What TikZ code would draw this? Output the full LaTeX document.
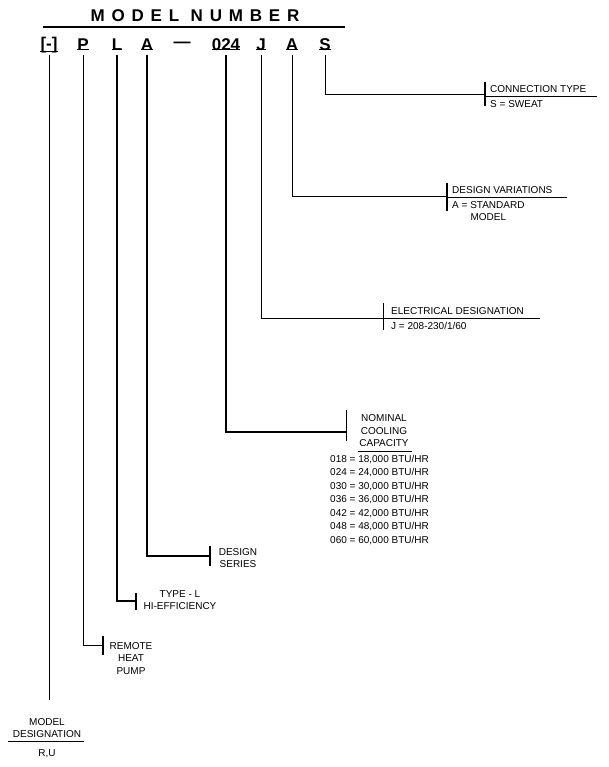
\documentclass[tikz,border=0pt]{standalone}
\usepackage{fontspec}
\setmainfont{Liberation Sans}
\begin{document}
\begin{tikzpicture}[x=1pt,y=-1pt,
  lab/.style={font=\fontsize{10}{12.5}\selectfont,inner sep=0,align=center},
  big/.style={font=\fontsize{17}{17}\selectfont\bfseries,inner sep=0},
  ln/.style={line width=0.9pt},
  tk/.style={line width=1.2pt}]
\useasboundingbox (0,0) rectangle (608,767);
\node[big] (title) at (195,16) {\addfontfeature{LetterSpace=40}MODEL NUMBER};
\draw[line width=1.2pt] (43,27) -- (345,27);
\node[big] (c1) at (49,45) {[-]};
\node[big] (c2) at (83,45) {P};
\node[big] (c3) at (117,45) {L};
\node[big] (c4) at (147,45) {A};
\node[big] (c5) at (182,45) {---};
\node[big] (c6) at (226,45) {024};
\node[big] (c7) at (261,45) {J};
\node[big] (c8) at (292,45) {A};
\node[big] (c9) at (325,45) {S};
\foreach \i in {1,2,3,4,6,7,8,9}{\draw[line width=1pt] ([yshift=2pt]c\i.south west) -- ([yshift=2pt]c\i.south east);}
% model designation
\coordinate (e1) at (49,700);
\draw[ln] (49,55) -- (e1);
\node[lab] (md) at (47,728) {MODEL\\DESIGNATION};
\draw[ln] (8,741) -- (84,741);
\node[lab] (ru) at (47,754) {R,U};
% P
\coordinate (t2) at (103,645);
\draw[ln] (83,55) |- (t2);
\draw[tk] (103,636) -- (103,655);
\node[lab,anchor=north] (rh) at (131,642) {REMOTE\\HEAT\\PUMP};
% L
\coordinate (t3) at (136,601);
\draw[tk] (117,55) |- (t3);
\draw[tk] (136,593) -- (136,610);
\node[lab] (ty) at (180,600) {TYPE - L\\HI-EFFICIENCY};
% A
\coordinate (t4) at (210,556);
\draw[tk] (147,55) |- (t4);
\draw[tk] (210,546) -- (210,566);
\node[lab] (ds) at (238,558) {DESIGN\\SERIES};
% 024
\coordinate (t6) at (346,432);
\draw[tk] (226,55) |- (t6);
\draw[ln] (346,410) -- (346,441);
\node[lab] (nc) at (384,431) {NOMINAL\\COOLING\\CAPACITY};
\draw[ln] (358,451) -- (412,451);
\node[lab,anchor=north west,align=left,font=\fontsize{10}{13.5}\selectfont] (tab) at (330,455) {018 = 18,000 BTU/HR\\024 = 24,000 BTU/HR\\030 = 30,000 BTU/HR\\036 = 36,000 BTU/HR\\042 = 42,000 BTU/HR\\048 = 48,000 BTU/HR\\060 = 60,000 BTU/HR};
% J
\coordinate (t7) at (383,318);
\draw[ln] (261,55) |- (t7);
\draw[ln] (383,303) -- (383,330);
\node[lab,anchor=west] (ed) at (391,311) {ELECTRICAL DESIGNATION};
\draw[ln] (383,318) -- (540,318);
\node[lab,anchor=west] (ej) at (391,326) {J = 208-230/1/60};
% A
\coordinate (t8) at (447,196);
\draw[ln] (292,55) |- (t8);
\draw[tk] (447,183) -- (447,211);
\node[lab,anchor=west] (dv) at (452,190) {DESIGN VARIATIONS};
\draw[ln] (447,197) -- (567,197);
\node[lab,anchor=north west,align=center] (da) at (452,201) {A = STANDARD\\MODEL};
% S
\coordinate (t9) at (485,94);
\draw[ln] (325,55) |- (t9);
\draw[tk] (485,82) -- (485,106);
\node[lab,anchor=west] (ct) at (490,89) {CONNECTION TYPE};
\draw[ln] (485,96) -- (597,96);
\node[lab,anchor=west] (cs) at (490,104) {S = SWEAT};
\end{tikzpicture}
\end{document}
